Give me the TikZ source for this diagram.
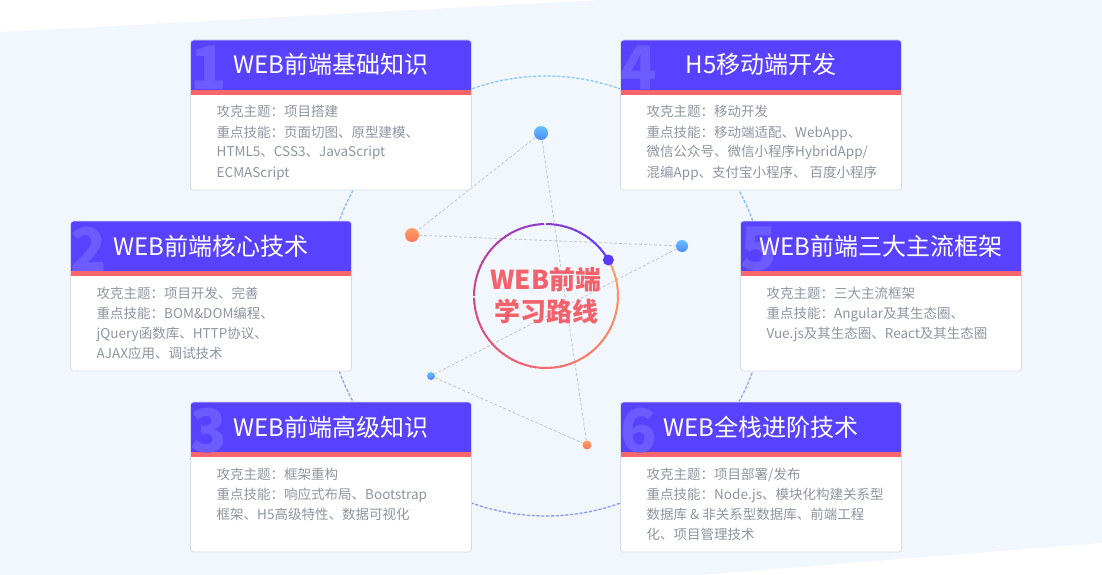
\documentclass[tikz,border=0pt]{standalone}
\usepackage{fontspec}
\setmainfont{Noto Sans CJK SC}
\usetikzlibrary{calc}
\definecolor{bgblue}{HTML}{F2F6FD}
\definecolor{hdrpurple}{HTML}{5842FF}
\definecolor{digitpurple}{HTML}{6C5BFF}
\definecolor{stripered}{HTML}{F7666B}
\definecolor{cardline}{HTML}{D8DCE4}
\definecolor{bodygray}{HTML}{8E95A0}
\definecolor{centerred}{HTML}{F3616A}
\definecolor{linkgray}{HTML}{C3C6CC}
\definecolor{ringtop}{HTML}{8DCBF8}
\definecolor{ringbot}{HTML}{8B9BF2}
\definecolor{dotbluetop}{HTML}{66C0FF}
\definecolor{dotbluebot}{HTML}{4A8AF6}
\definecolor{dotortop}{HTML}{FF9F6A}
\definecolor{dotorbot}{HTML}{FF7655}
\definecolor{dotpurple}{HTML}{5A3AF6}
\definecolor{go}{HTML}{FFA25E}
\definecolor{gr}{HTML}{F76A6B}
\definecolor{gm}{HTML}{D6457B}
\definecolor{gp}{HTML}{8A3DCB}
\definecolor{gb}{HTML}{5A3AF6}
\tikzset{
  cardfill/.style={fill=white, rounded corners=3pt, minimum width=281pt, minimum height=150pt, inner sep=0pt, outer sep=0pt},
  cardframe/.style={draw=cardline, line width=0.8pt, rounded corners=3pt},
  titletxt/.style={font=\fontsize{24}{28}\selectfont, text=white, inner sep=0pt},
  digittxt/.style={font=\fontsize{60}{60}\selectfont\bfseries, text=digitpurple, inner sep=0pt, anchor=north west},
  bodytxt/.style={font=\fontsize{13.5}{20}\selectfont, text=bodygray, inner sep=0pt, anchor=base west},
  centertxt/.style={font=\fontsize{26}{32}\selectfont\bfseries, text=centerred, align=center, inner sep=0pt},
  ringseg/.style={line width=1.3pt, dash pattern=on 3.2pt off 1.6pt},
  linkline/.style={draw=linkgray, line width=0.8pt, dash pattern=on 3pt off 2pt},
  bluedot/.style={circle, inner sep=0pt, minimum size=#1, top color=dotbluetop, bottom color=dotbluebot},
  orangedot/.style={circle, inner sep=0pt, minimum size=#1, top color=dotortop, bottom color=dotorbot},
  purpledot/.style={circle, inner sep=0pt, minimum size=11pt, fill=dotpurple},
}
\newcommand\mycard[6]{%
\begin{scope}[shift={(#2,-#3)}]
\node[cardfill, anchor=north west] (k#1) at (0,0) {};
\fill[hdrpurple] (0,-50) -- (0,-3) arc[start angle=180,end angle=90,radius=3pt] -- (278,0) arc[start angle=90,end angle=0,radius=3pt] -- (281,-50) -- cycle;
\fill[stripered] (0,-50) rectangle (281,-55);
\begin{scope}
\clip (0,-50) rectangle (281,0);
\node[digittxt] (d#1) at (0,-6) {#4};
\end{scope}
\node[titletxt, anchor=base] (h#1) at (140.5,-34) {#5};
\foreach \myline [count=\myn] in {#6} {
  \node[bodytxt] (b#1-\myn) at (26,{-77-20*(\myn-1)}) {\myline};
}
\draw[cardframe] (k#1.north west) rectangle (k#1.south east);
\end{scope}}
\begin{document}
\begin{tikzpicture}[x=1pt,y=1pt]
\useasboundingbox (0,0) rectangle (1102,-575);
\fill[bgblue] (0,0) rectangle (1102,-575);
\fill[white] (0,0) -- (600,0) -- (0,-32) -- cycle;
\fill[white] (700,-575) -- (1102,-543) -- (1102,-575) -- cycle;
\coordinate (ctrc) at (546,-296);
% dashed ring
\foreach \k in {0,...,35} {
  \pgfmathsetmacro\aa{\k*10}
  \pgfmathtruncatemacro\pc{50+50*sin(\aa+5)}
  \draw[ringseg, color=ringtop!\pc!ringbot] ([shift={(\aa:220pt)}]ctrc) arc[start angle=\aa, end angle=\aa+10, radius=220pt];
}
% dots
\node[bluedot=14pt] (A) at (541,-133) {};
\node[orangedot=14pt] (B) at (412,-235) {};
\node[bluedot=12pt] (C) at (682,-246) {};
\node[bluedot=8pt] (D) at (431,-376) {};
\node[orangedot=9pt] (E) at (587,-445) {};
\draw[linkline] (A) -- (B) -- (C) -- (D) -- (E) -- (A);
% gradient circle
\foreach \s/\e/\ca/\cb in {30/-90/go/gr, -90/-180/gr/gm, -180/-270/gm/gp, -270/-330/gp/gb} {
  \pgfmathtruncatemacro\nseg{(\s-\e)/4}
  \foreach \k in {1,...,\nseg} {
    \pgfmathsetmacro\sa{\s-(\k-1)*4}
    \pgfmathsetmacro\sb{\s-\k*4-0.6}
    \pgfmathtruncatemacro\pc{100-100*(\k-0.5)/\nseg}
    \draw[line width=2pt, color=\ca!\pc!\cb] ([shift={(\sa:72pt)}]ctrc) arc[start angle=\sa, end angle=\sb, radius=72pt];
  }
}
\node[purpledot] (P) at ([shift={(30:72pt)}]ctrc) {};
\node[centertxt] (ctr) at (ctrc) {WEB前端\\学习路线};
% cards
\mycard{1}{190.5}{40}{1}{WEB前端基础知识}{攻克主题：项目搭建,重点技能：页面切图、原型建模、,HTML5、CSS3、JavaScript,ECMAScript}
\mycard{4}{620.5}{40}{4}{H5移动端开发}{攻克主题：移动开发,重点技能：移动端适配、WebApp、,微信公众号、微信小程序HybridApp/,混编App、支付宝小程序、 百度小程序}
\mycard{2}{70.5}{221}{2}{WEB前端核心技术}{攻克主题：项目开发、完善,重点技能：BOM\&DOM编程、,jQuery函数库、HTTP协议、,AJAX应用、调试技术}
\mycard{5}{740.5}{221}{5}{WEB前端三大主流框架}{攻克主题：三大主流框架,重点技能：Angular及其生态圈、,Vue.js及其生态圈、React及其生态圈}
\mycard{3}{190.5}{402}{3}{WEB前端高级知识}{攻克主题：框架重构,重点技能：响应式布局、Bootstrap,框架、H5高级特性、数据可视化}
\mycard{6}{620.5}{402}{6}{WEB全栈进阶技术}{攻克主题：项目部署/发布,重点技能：Node.js、模块化构建关系型,数据库 \& 非关系型数据库、前端工程,化、项目管理技术}
\end{tikzpicture}
\end{document}
